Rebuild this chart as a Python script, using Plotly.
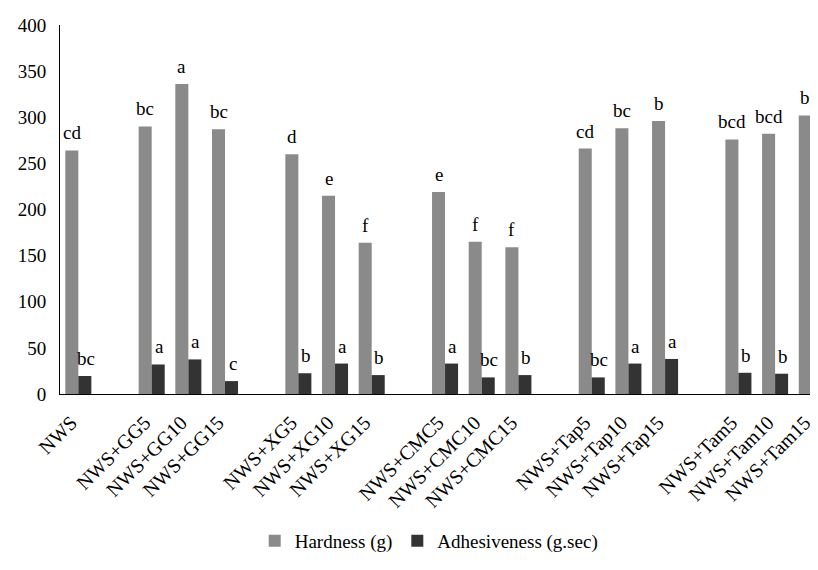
import plotly.graph_objects as go

groups = [
    ["NWS"],
    ["NWS+GG5", "NWS+GG10", "NWS+GG15"],
    ["NWS+XG5", "NWS+XG10", "NWS+XG15"],
    ["NWS+CMC5", "NWS+CMC10", "NWS+CMC15"],
    ["NWS+Tap5", "NWS+Tap10", "NWS+Tap15"],
    ["NWS+Tam5", "NWS+Tam10", "NWS+Tam15"],
]
hardness = [264, 290, 336, 287, 260, 215, 164, 219, 165, 159, 266, 288, 296, 276, 282, 302]
hardness_letters = ["cd", "bc", "a", "bc", "d", "e", "f", "e", "f", "f", "cd", "bc", "b", "bcd", "bcd", "b"]
adhesiveness = [19.5, 32, 37.5, 14, 22.5, 33, 20.5, 33, 18, 20.5, 18, 33, 38, 23, 22, 23]
adhesiveness_letters = ["bc", "a", "a", "c", "b", "a", "b", "a", "bc", "b", "bc", "a", "a", "b", "b", "b"]
y_ticks = [0, 50, 100, 150, 200, 250, 300, 350, 400]

# Build category axis with blank spacer slots between groups
cats, h_vals, a_vals, h_txt, a_txt = [], [], [], [], []
i = 0
for gi, g in enumerate(groups):
    if gi > 0:
        cats.append(" " * gi)
        h_vals.append(None); a_vals.append(None)
        h_txt.append(None); a_txt.append(None)
    for name in g:
        cats.append(name)
        h_vals.append(hardness[i]); a_vals.append(adhesiveness[i])
        h_txt.append(hardness_letters[i]); a_txt.append(adhesiveness_letters[i])
        i += 1

FONT = "Liberation Serif, Times New Roman, serif"
W, H = 810, 562          # page body has an 8px margin
ML, MT, MB = 52, 17, 176
BARGAP = 0.29
x_range = [-0.5, len(cats) - 0.83]
slot_px = (W - ML) / (x_range[1] - x_range[0])
half_off = slot_px * (1 - BARGAP) / 4

fig = go.Figure()
fig.add_trace(go.Bar(
    x=cats, y=h_vals, name="Hardness (g)",
    marker=dict(color="#8a8a8a", line=dict(width=0)),
))
fig.add_trace(go.Bar(
    x=cats, y=a_vals, name="Adhesiveness (g.sec)",
    marker=dict(color="#333333", line=dict(width=0)),
))

annotations = []
for c, v, t in zip(cats, h_vals, h_txt):
    if v is not None:
        annotations.append(dict(x=c, y=v, text=t, xref="x", yref="y", showarrow=False,
                                xanchor="center", yanchor="bottom", xshift=-half_off, yshift=5,
                                font=dict(family=FONT, size=19, color="black")))
last_a = max(k for k, v in enumerate(a_vals) if v is not None)
for k, (c, v, t) in enumerate(zip(cats, a_vals, a_txt)):
    if v is not None:
        shift = half_off + 1 if k != last_a else half_off - 3
        annotations.append(dict(x=c, y=v, text=t, xref="x", yref="y", showarrow=False,
                                xanchor="center", yanchor="bottom", xshift=shift, yshift=5,
                                font=dict(family=FONT, size=19, color="black")))

fig.update_layout(
    width=W, height=H,
    margin=dict(l=ML, r=0, t=MT, b=MB, pad=0),
    paper_bgcolor="white", plot_bgcolor="white",
    barmode="group", bargap=BARGAP, bargroupgap=0,
    font=dict(family=FONT, size=19, color="black"),
    showlegend=True,
    annotations=annotations,
    legend=dict(
        orientation="h", xref="container", yref="container",
        x=0.52, y=0.052, xanchor="center", yanchor="middle",
        font=dict(family=FONT, size=19, color="black"),
        itemwidth=30, tracegroupgap=0,
    ),
    xaxis=dict(
        type="category", categoryorder="array", categoryarray=cats,
        range=x_range,
        tickangle=-45, showgrid=False, showline=True, linecolor="black", linewidth=1,
        ticks="", tickfont=dict(family=FONT, size=20, color="black"),
        ticklabelstandoff=8, ticklabelshift=-7,
    ),
    yaxis=dict(
        range=[0, 400], tickvals=y_ticks, showgrid=False, zeroline=False,
        showline=True, linecolor="black", linewidth=1, ticks="",
        tickfont=dict(family=FONT, size=19, color="black"),
        ticklabelstandoff=9,
    ),
)

fig.write_html("out.html")
